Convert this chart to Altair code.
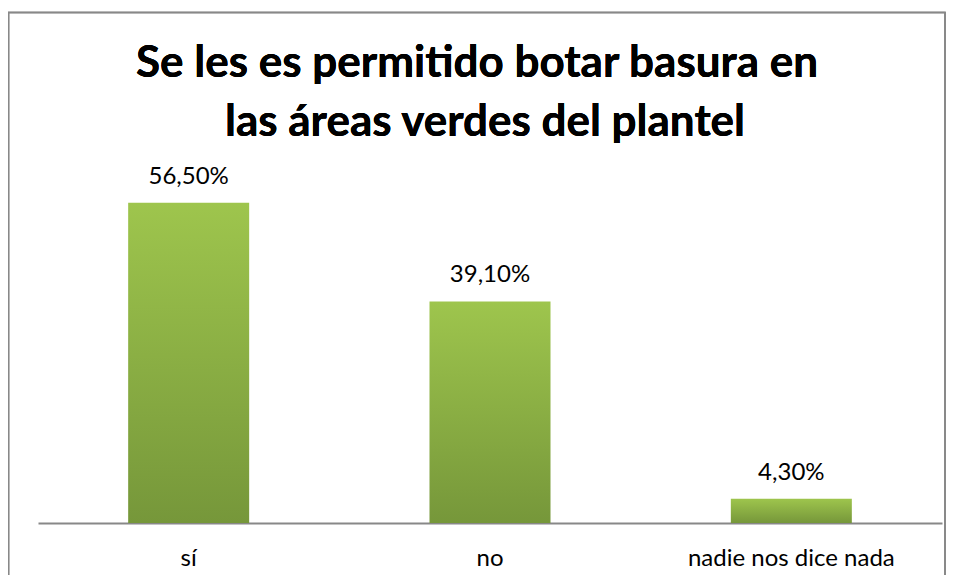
import altair as alt
import pandas as pd

categories = ["sí", "no", "nadie nos dice nada"]
values = [56.5, 39.1, 4.3]
labels = ["56,50%", "39,10%", "4,30%"]
title_lines = ["Se les es permitido botar basura en", "las áreas verdes del plantel"]

df = pd.DataFrame({"cat": categories, "val": values, "lab": labels})

FONT = "Lato"

x_enc = alt.X("cat:N", sort=categories, title=None,
              scale=alt.Scale(paddingInner=0, paddingOuter=0),
              axis=alt.Axis(labelAngle=0, ticks=False, domainColor="#888888",
                            domainWidth=2, labelFontSize=24, labelFont=FONT,
                            labelColor="#000000", labelPadding=42, labelLimit=400,
                            labelBaseline="alphabetic"))
y_enc = alt.Y("val:Q", scale=alt.Scale(domain=[0, 60]), axis=None)

bars = alt.Chart(df).mark_bar(
    size=121,
    color=alt.LinearGradient(
        gradient="linear", x1=0, y1=0, x2=0, y2=1,
        stops=[alt.GradientStop(color="#9ec54d", offset=0),
               alt.GradientStop(color="#76973a", offset=1)]),
).encode(x=x_enc, y=y_enc)

text = alt.Chart(df).mark_text(
    dy=-19, fontSize=24, font=FONT, color="#000000", baseline="alphabetic"
).encode(x=alt.X("cat:N", sort=categories), y="val:Q", text="lab:N")

border = alt.Chart(df).mark_rect(
    fill=None, stroke="#888888", strokeWidth=1.5, filled=False
).encode(x=alt.value(-29.5), x2=alt.value(907), y=alt.value(-170.5), y2=alt.value(500))

title1 = alt.Chart(df).mark_text(
    text=title_lines[0], font=FONT, fontSize=44, fontWeight="bold", color="#000000",
    baseline="alphabetic", align="center"
).encode(x=alt.value(439), y=alt.value(-106))

title2 = alt.Chart(df).mark_text(
    text=title_lines[1], font=FONT, fontSize=44, fontWeight="bold", color="#000000",
    baseline="alphabetic", align="center"
).encode(x=alt.value(447), y=alt.value(-47))

chart = alt.layer(border, bars, text, title1, title2).properties(
    width=904, height=340,
    background="white",
    autosize=alt.AutoSizeParams(type="none"),
    padding={"left": 30, "top": 175, "right": 4, "bottom": 52},
).configure_view(strokeWidth=0, stroke=None)

chart.save("out.html", embed_options={"renderer": "svg", "actions": False})
